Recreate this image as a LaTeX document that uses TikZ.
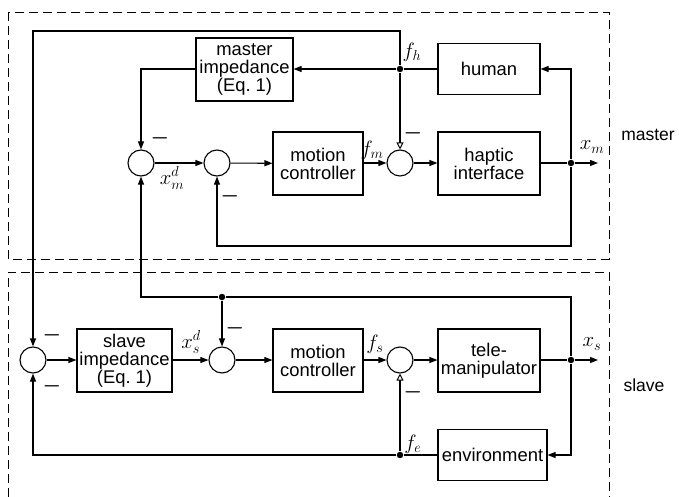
\documentclass[tikz,border=0pt]{standalone}
\usepackage{fontspec}
\setmainfont{Liberation Sans}
\usetikzlibrary{arrows.meta}

\begin{document}
\begin{tikzpicture}[x=1pt,y=-1pt,
  line width=1.1pt,
  every node/.style={font=\fontsize{18.4}{18}\selectfont},
  blk/.style={draw, inner sep=0pt, align=center},
  sumj/.style={draw, circle, minimum size=26pt, inner sep=0pt},
  jdot/.style={circle, fill, inner sep=0pt, minimum size=6.5pt},
  arr/.style={-{Triangle[length=8pt,width=6pt]}},
  oarr/.style={-{Triangle[open,length=7pt,width=7pt,line width=1pt]}},
  lbl/.style={inner sep=0pt, font=\fontsize{22}{22}\selectfont},
  side/.style={font=\fontsize{17.5}{18}\selectfont},
  neg/.style={inner sep=0pt, font=\fontsize{22}{22}\selectfont\boldmath},
  frame/.style={line width=0.9pt, dash pattern=on 9pt off 5pt}
]
\useasboundingbox (0,0) rectangle (679,497);

% dashed groupings
\draw[frame] (8,12) rectangle (609,259);
\draw[frame] (8,497) -- (8,272) -- (609,272) -- (609,497);
\node[side] (lmaster) at (648,135) {master};
\node[side] (lslave) at (644,385) {slave};

% ---------- master side ----------
\node[blk, minimum width=97pt, minimum height=63pt] (mimp) at (244.5,69.5) {master\\impedance\\(Eq.~1)};
\node[blk, minimum width=102pt, minimum height=51pt] (human) at (489,69) {human};
\node[sumj] (c1) at (141,163) {};
\node[sumj] (c2) at (217,163) {};
\node[blk, minimum width=90pt, minimum height=63pt] (mctl) at (318,163.5) {motion\\controller};
\node[sumj] (c3) at (400,163) {};
\node[blk, minimum width=102pt, minimum height=63pt] (hapt) at (489,163.5) {haptic\\interface};
\node[jdot] (jh) at (400,69) {};
\node[jdot] (jxm) at (571,163) {};
\coordinate (xmout) at (598,163);
\coordinate (tl) at (33,31);
\coordinate (fbm) at (571,246);

% ---------- slave side ----------
\node[sumj] (c4) at (33,360) {};
\node[blk, minimum width=95pt, minimum height=63pt] (simp) at (124.5,360.5) {slave\\impedance\\(Eq.~1)};
\node[sumj] (c5) at (222,360) {};
\node[blk, minimum width=90pt, minimum height=63pt] (sctl) at (318,360.5) {motion\\controller};
\node[sumj] (c6) at (400,360) {};
\node[blk, minimum width=102pt, minimum height=63pt] (tele) at (489,360.5) {tele-\\manipulator};
\node[blk, minimum width=109pt, minimum height=51pt] (env) at (492.5,455) {environment};
\node[jdot] (jxs) at (571,360) {};
\node[jdot] (jsl) at (222,297) {};
\node[jdot] (jfe) at (400,455) {};
\coordinate (xsout) at (598,360);
\coordinate (fbs) at (571,297);

% ---------- master connectors ----------
\draw[arr] (jh) |- (tl) -- (c4);
\draw[oarr] (jh) -- (c3);
\draw[arr] (jh) -- (mimp.east |- jh);
\draw (human.west |- jh) -- (jh);
\draw[arr] (mimp.west |- jh) -| (c1);
\draw[arr] (c1) -- (c2);
\draw[arr] (c2) -- (mctl);
\draw[arr] (mctl.east |- c3) -- (c3);
\draw[arr] (c3) -- (hapt.west |- c3);
\draw (hapt.east |- jxm) -- (jxm);
\draw[arr] (jxm) -- (xmout);
\draw[arr] (jxm) |- (human.east);
\draw[arr] (jxm) -- (fbm) -| (c2);

% ---------- slave connectors ----------
\draw (jxs) -- (fbs) -- (jsl);
\draw[arr] (jsl) -| (c1);
\draw[arr] (jsl) -- (c5);
\draw[arr] (c4) -- (simp.west |- c4);
\draw[arr] (simp.east |- c5) -- (c5);
\draw[arr] (c5) -- (sctl.west |- c5);
\draw[arr] (sctl.east |- c6) -- (c6);
\draw[arr] (c6) -- (tele.west |- c6);
\draw (tele.east |- jxs) -- (jxs);
\draw[arr] (jxs) -- (xsout);
\draw[arr] (jxs) |- (env.east);
\draw (env.west) -- (jfe);
\draw[oarr] (jfe) -- (c6);
\draw[arr] (jfe) -| (c4);

% ---------- signal labels ----------
\node[lbl] (tfh) at (412,52) {$f_h$};
\node[lbl] (tfm) at (372,150) {$f_m$};
\node[lbl] (txm) at (592,147) {$x_m$};
\node[lbl] (txmd) at (172,178) {$x_m^d$};
\node[lbl] (tfs) at (375,344) {$f_s$};
\node[lbl] (txs) at (592,344) {$x_s$};
\node[lbl] (tfe) at (413,444) {$f_e$};
\node[lbl] (txsd) at (191,342) {$x_s^d$};

% ---------- signs at the summing junctions ----------
\node[neg] (n1) at (160,138) {$-$};
\node[neg] (n2) at (230,196) {$-$};
\node[neg] (n3) at (413,133) {$-$};
\node[neg] (n4) at (52,335) {$-$};
\node[neg] (n5) at (52,386) {$-$};
\node[neg] (n6) at (235,328) {$-$};
\node[neg] (n7) at (413,392) {$-$};
\end{tikzpicture}
\end{document}
